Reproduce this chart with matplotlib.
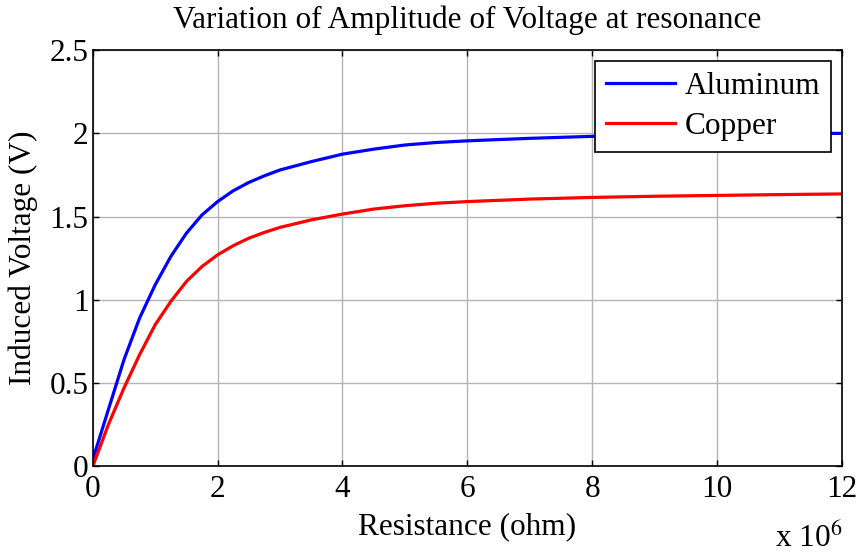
import matplotlib
matplotlib.use("Agg")
import matplotlib.pyplot as plt

# resistance in units of 1e6 ohm
resistance = [0, 0.25, 0.5, 0.75, 1.0, 1.25, 1.5, 1.75, 2.0, 2.25, 2.5, 2.75, 3.0,
              3.5, 4.0, 4.5, 5.0, 5.5, 6.0, 7.0, 8.0, 9.0, 10.0, 11.0, 12.0]
aluminum = [0.04, 0.34, 0.64, 0.89, 1.09, 1.26, 1.40, 1.51, 1.59, 1.655, 1.705, 1.745, 1.78,
            1.83, 1.875, 1.905, 1.93, 1.945, 1.955, 1.97, 1.982, 1.99, 1.995, 1.998, 2.0]
copper = [0.0, 0.25, 0.47, 0.67, 0.85, 0.99, 1.11, 1.20, 1.27, 1.325, 1.37, 1.405, 1.435,
          1.48, 1.515, 1.545, 1.565, 1.58, 1.59, 1.605, 1.615, 1.622, 1.627, 1.632, 1.636]

xticks = [0, 2, 4, 6, 8, 10, 12]
yticks = [0, 0.5, 1, 1.5, 2, 2.5]
ytick_labels = ["0", "0.5", "1", "1.5", "2", "2.5"]

plt.rcParams['font.family'] = ['Liberation Serif', 'DejaVu Serif']
plt.rcParams['mathtext.fontset'] = 'stix'
fsize = 22.5

fig = plt.figure(figsize=(8.59, 5.57), dpi=100)
ax = fig.add_axes([0.108, 0.163, 0.872, 0.747])

ax.plot(resistance, aluminum, color=(0, 0, 1), linewidth=2.3, label="Aluminum")
ax.plot(resistance, copper, color=(1, 0, 0), linewidth=2.3, label="Copper")

ax.set_xlim(0, 12)
ax.set_ylim(0, 2.5)
ax.set_xticks(xticks)
ax.set_xticklabels([str(t) for t in xticks])
ax.set_yticks(yticks)
ax.set_yticklabels(ytick_labels)
ax.tick_params(direction='in', length=4, width=1, labelsize=fsize, top=True, right=True)
ax.tick_params(axis='x', pad=6)
ax.tick_params(axis='y', pad=3)
ax.grid(True, color='#b4b4b4', linewidth=1, linestyle='-')
ax.set_axisbelow(True)
for s in ax.spines.values():
    s.set_linewidth(1.2)

ax.set_title("Variation of Amplitude of Voltage at resonance", fontsize=fsize, pad=16)
ax.set_xlabel("Resistance (ohm)", fontsize=fsize, labelpad=6)
ax.set_ylabel("Induced Voltage (V)", fontsize=fsize, labelpad=8.5)

fig.text(0.902, 0.018, r"x 10$^{6}$", fontsize=fsize)

leg = ax.legend(loc='upper right', fontsize=fsize, fancybox=False, framealpha=1,
                edgecolor='black', borderpad=0.35, labelspacing=0.35,
                handlelength=2.2, handletextpad=0.3, borderaxespad=0.35)
leg.get_frame().set_linewidth(1.2)

plt.savefig("out.png", dpi=100)
